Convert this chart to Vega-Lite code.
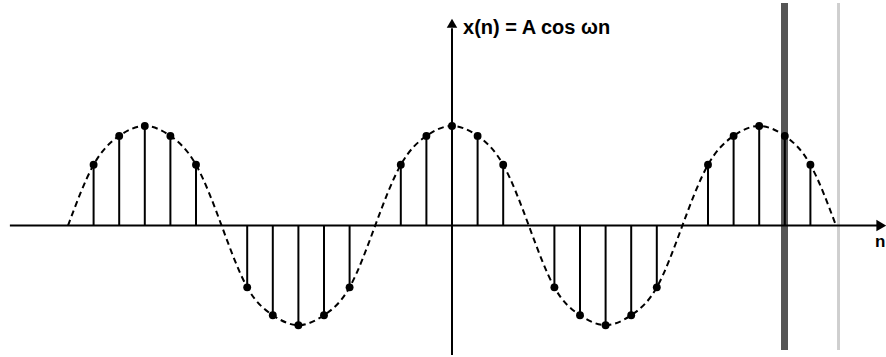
{
  "$schema": "https://vega.github.io/schema/vega-lite/v6.json",
  "width": 886,
  "height": 357,
  "padding": 0,
  "autosize": {"type": "fit", "contains": "padding"},
  "background": "white",
  "config": {"view": {"stroke": null}},
  "datasets": {
    "samples": [
      {"n": -15, "xn": 0}, {"n": -14, "xn": 0.61}, {"n": -13, "xn": 0.9}, {"n": -12, "xn": 1.0},
      {"n": -11, "xn": 0.9}, {"n": -10, "xn": 0.61}, {"n": -9, "xn": 0}, {"n": -8, "xn": -0.62},
      {"n": -7, "xn": -0.9}, {"n": -6, "xn": -1.0}, {"n": -5, "xn": -0.9}, {"n": -4, "xn": -0.62},
      {"n": -3, "xn": 0}, {"n": -2, "xn": 0.61}, {"n": -1, "xn": 0.9}, {"n": 0, "xn": 1.0},
      {"n": 1, "xn": 0.9}, {"n": 2, "xn": 0.61}, {"n": 3, "xn": 0}, {"n": 4, "xn": -0.62},
      {"n": 5, "xn": -0.9}, {"n": 6, "xn": -1.0}, {"n": 7, "xn": -0.9}, {"n": 8, "xn": -0.62},
      {"n": 9, "xn": 0}, {"n": 10, "xn": 0.61}, {"n": 11, "xn": 0.9}, {"n": 12, "xn": 1.0},
      {"n": 13, "xn": 0.9}, {"n": 14, "xn": 0.61}, {"n": 15, "xn": 0}
    ],
    "axes": [
      {"axis": "n", "a0": -17.27, "a1": 16.75, "b0": 0, "b1": 0},
      {"axis": "x(n)", "a0": 0, "a1": 0, "b0": -1.3, "b1": 1.98}
    ]
  },
  "data": {"name": "samples"},
  "layer": [
    {
      "mark": {"type": "line", "interpolate": "natural", "color": "black", "strokeWidth": 2, "strokeDash": [6, 4]},
      "encoding": {
        "x": {"field": "n", "type": "quantitative", "scale": {"domain": [-17.656, 16.953], "nice": false, "zero": false}, "axis": null},
        "y": {"field": "xn", "type": "quantitative", "scale": {"domain": [-1.249, 2.234], "nice": false, "zero": false}, "axis": null}
      }
    },
    {
      "mark": {"type": "rule", "color": "#555555", "strokeWidth": 6},
      "encoding": {"x": {"datum": 13, "type": "quantitative"}}
    },
    {
      "mark": {"type": "rule", "color": "#cfcfcf", "strokeWidth": 2},
      "encoding": {"x": {"datum": 15.1, "type": "quantitative"}}
    },
    {
      "data": {"name": "axes"},
      "mark": {"type": "rule", "color": "black", "strokeWidth": 2},
      "encoding": {
        "x": {"field": "a0", "type": "quantitative"},
        "x2": {"field": "a1"},
        "y": {"field": "b0", "type": "quantitative"},
        "y2": {"field": "b1"}
      }
    },
    {
      "transform": [{"filter": "datum.xn != 0"}],
      "mark": {"type": "rule", "color": "black", "strokeWidth": 2},
      "encoding": {
        "x": {"field": "n", "type": "quantitative"},
        "y": {"field": "xn", "type": "quantitative"},
        "y2": {"datum": 0}
      }
    },
    {
      "transform": [{"filter": "datum.xn != 0"}],
      "mark": {"type": "circle", "color": "black", "opacity": 1, "size": 62},
      "encoding": {
        "x": {"field": "n", "type": "quantitative"},
        "y": {"field": "xn", "type": "quantitative"}
      }
    },
    {
      "data": {"values": [{"label": "x(n) = A cos ωn"}]},
      "layer": [
        {
          "mark": {"type": "point", "shape": "triangle-up", "filled": true, "color": "black", "opacity": 1, "size": 110},
          "encoding": {
            "x": {"datum": 0, "type": "quantitative"},
            "y": {"datum": 2.03, "type": "quantitative"}
          }
        },
        {
          "mark": {"type": "text", "align": "left", "baseline": "alphabetic", "font": "Liberation Sans", "fontSize": 20, "fontWeight": "bold", "color": "black"},
          "encoding": {
            "x": {"datum": 0.43, "type": "quantitative"},
            "y": {"datum": 1.92, "type": "quantitative"},
            "text": {"field": "label"}
          }
        }
      ]
    },
    {
      "data": {"values": [{"label": "n"}]},
      "layer": [
        {
          "mark": {"type": "point", "shape": "triangle-right", "filled": true, "color": "black", "opacity": 1, "size": 130, "clip": true},
          "encoding": {
            "x": {"datum": 16.77, "type": "quantitative"},
            "y": {"datum": 0, "type": "quantitative"}
          }
        },
        {
          "mark": {"type": "text", "align": "right", "baseline": "alphabetic", "font": "Liberation Sans", "fontSize": 17, "fontWeight": "bold", "color": "black"},
          "encoding": {
            "x": {"datum": 16.93, "type": "quantitative"},
            "y": {"datum": -0.22, "type": "quantitative"},
            "text": {"field": "label"}
          }
        }
      ]
    }
  ]
}
